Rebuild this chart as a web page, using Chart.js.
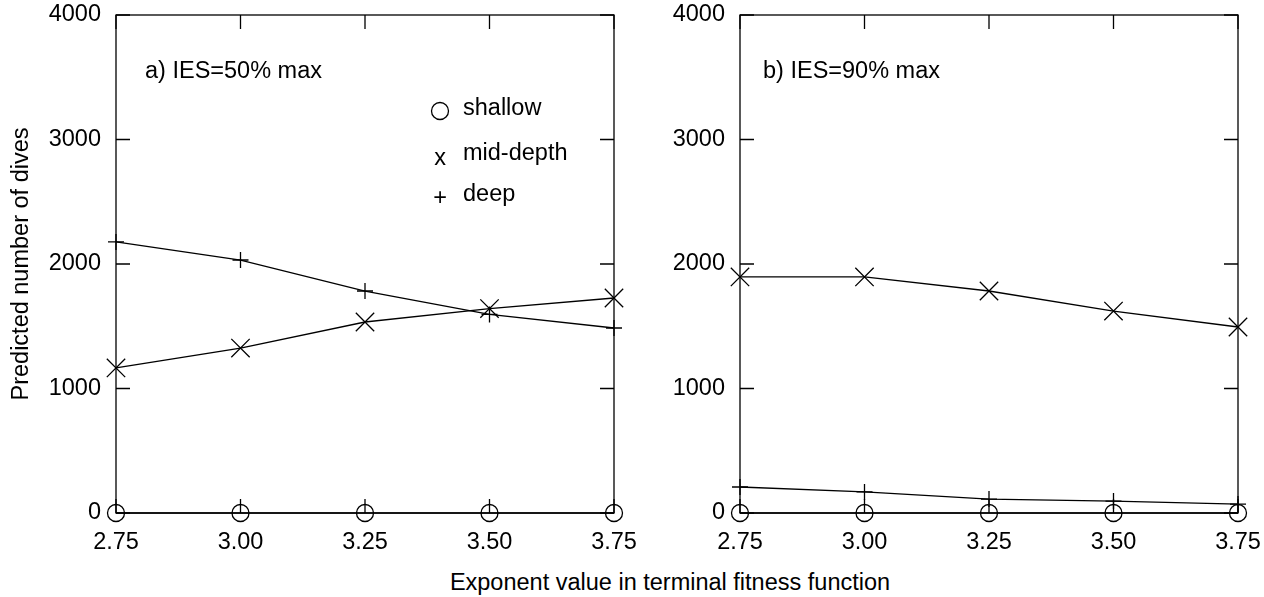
<!DOCTYPE html>
<html>
<head>
<meta charset="utf-8">
<script src="https://cdn.jsdelivr.net/npm/chart.js@4"></script>
<style>
  body { margin: 0; background: #fff; }
  #wrap { position: relative; width: 1264px; height: 597px; font-family: "Liberation Sans", Arial, sans-serif; }
  .panel { position: absolute; top: 0; }
  #xTitle { position: absolute; left: 0; width: 1340px; top: 569px; text-align: center; font-size: 23.5px; color: #000; }
</style>
</head>
<body>
<div id="wrap">
  <canvas id="chartA" class="panel" style="left:0" width="660" height="560"></canvas>
  <canvas id="chartB" class="panel" style="left:632px" width="632" height="560"></canvas>
  <div id="xTitle">Exponent value in terminal fitness function</div>
</div>
<script>
const exponents = [2.75, 3.00, 3.25, 3.50, 3.75];
const yTicks = [0, 1000, 2000, 3000, 4000];

// a) IES=50% max
const shallowA = [0, 0, 0, 0, 0];
const midA = [1165, 1325, 1534, 1642, 1727];
const deepA = [2177, 2032, 1783, 1595, 1486];

// b) IES=90% max
const shallowB = [0, 0, 0, 0, 0];
const midB = [1896, 1896, 1783, 1622, 1494];
const deepB = [209, 169, 112, 96, 72];

const FONT = '"Liberation Sans", Arial, sans-serif';
const SIZE = 23.5;

function pts(values) {
  return exponents.map((x, i) => ({ x, y: values[i] }));
}

function series(label, values, style, radius) {
  return {
    label,
    data: pts(values),
    borderColor: '#000',
    borderWidth: 1.3,
    backgroundColor: 'rgba(0,0,0,0)',
    pointStyle: style,
    pointRadius: radius,
    pointBorderWidth: 1.3,
    pointBorderColor: '#000',
    pointBackgroundColor: 'rgba(0,0,0,0)',
    tension: 0,
    clip: false,
  };
}

function noPad(s) {
  s.paddingTop = 0;
  s.paddingBottom = 0;
  s.paddingLeft = 0;
  s.paddingRight = 0;
}

// gnuplot-like box with inward ticks on all four sides, plus panel text
const framePlugin = {
  id: 'frame',
  afterDraw(chart, args, opts) {
    const { ctx, chartArea: a, scales } = chart;
    const tl = 14;
    ctx.save();
    ctx.strokeStyle = '#000';
    ctx.lineWidth = 1.3;
    ctx.strokeRect(a.left, a.top, a.right - a.left, a.bottom - a.top);
    ctx.beginPath();
    yTicks.forEach((v) => {
      const y = scales.y.getPixelForValue(v);
      ctx.moveTo(a.left, y); ctx.lineTo(a.left + tl, y);
      ctx.moveTo(a.right, y); ctx.lineTo(a.right - tl, y);
    });
    exponents.forEach((v) => {
      const x = scales.x.getPixelForValue(v);
      ctx.moveTo(x, a.bottom); ctx.lineTo(x, a.bottom - tl);
      ctx.moveTo(x, a.top); ctx.lineTo(x, a.top + tl);
    });
    ctx.stroke();

    ctx.fillStyle = '#000';
    ctx.font = SIZE + 'px ' + FONT;
    ctx.textBaseline = 'middle';
    ctx.textAlign = 'left';
    ctx.fillText(opts.label, a.left + opts.labelX, 72);

    if (opts.legend) {
      const lx = a.left + 324;
      const tx = a.left + 347;
      ctx.beginPath();
      ctx.arc(lx, 111, 8.5, 0, Math.PI * 2);
      ctx.stroke();
      ctx.fillText('shallow', tx, 109);
      ctx.textAlign = 'center';
      ctx.fillText('x', lx, 159);
      ctx.fillText('+', lx, 199);
      ctx.textAlign = 'left';
      ctx.fillText('mid-depth', tx, 154);
      ctx.fillText('deep', tx, 195);
    }
    ctx.restore();
  },
};

function makeChart(id, shallow, mid, deep, leftW, rightPad, label, labelX, legend, yTitle) {
  return new Chart(document.getElementById(id), {
    type: 'line',
    data: {
      datasets: [
        series('shallow', shallow, 'circle', 8.5),
        series('mid-depth', mid, 'crossRot', 13),
        series('deep', deep, 'cross', 8),
      ],
    },
    options: {
      responsive: false,
      animation: false,
      layout: { padding: { top: 15, right: rightPad, left: 0, bottom: 0 } },
      plugins: {
        legend: { display: false },
        tooltip: { enabled: false },
        frame: { label, labelX, legend },
      },
      scales: {
        x: {
          type: 'linear',
          min: 2.75,
          max: 3.75,
          grid: { display: false },
          border: { display: false },
          afterBuildTicks: (s) => { s.ticks = exponents.map((v) => ({ value: v })); },
          afterFit: (s) => { s.height = 47; noPad(s); },
          ticks: {
            color: '#000',
            padding: 7,
            maxRotation: 0,
            font: { family: FONT, size: SIZE },
            callback: (v) => Number(v).toFixed(2),
          },
        },
        y: {
          min: 0,
          max: 4000,
          grid: { display: false },
          border: { display: false },
          afterBuildTicks: (s) => { s.ticks = yTicks.map((v) => ({ value: v })); },
          afterFit: (s) => { s.width = leftW; noPad(s); },
          title: {
            display: yTitle,
            text: 'Predicted number of dives',
            color: '#000',
            font: { family: FONT, size: SIZE },
            padding: { top: 7, bottom: 0 },
          },
          ticks: {
            color: '#000',
            padding: 7,
            font: { family: FONT, size: SIZE },
            callback: (v) => String(v),
          },
        },
      },
    },
    plugins: [framePlugin],
  });
}

makeChart('chartA', shallowA, midA, deepA, 116, 46, 'a) IES=50% max', 29, true, true);
makeChart('chartB', shallowB, midB, deepB, 108, 26, 'b) IES=90% max', 23, false, false);
</script>
</body>
</html>
